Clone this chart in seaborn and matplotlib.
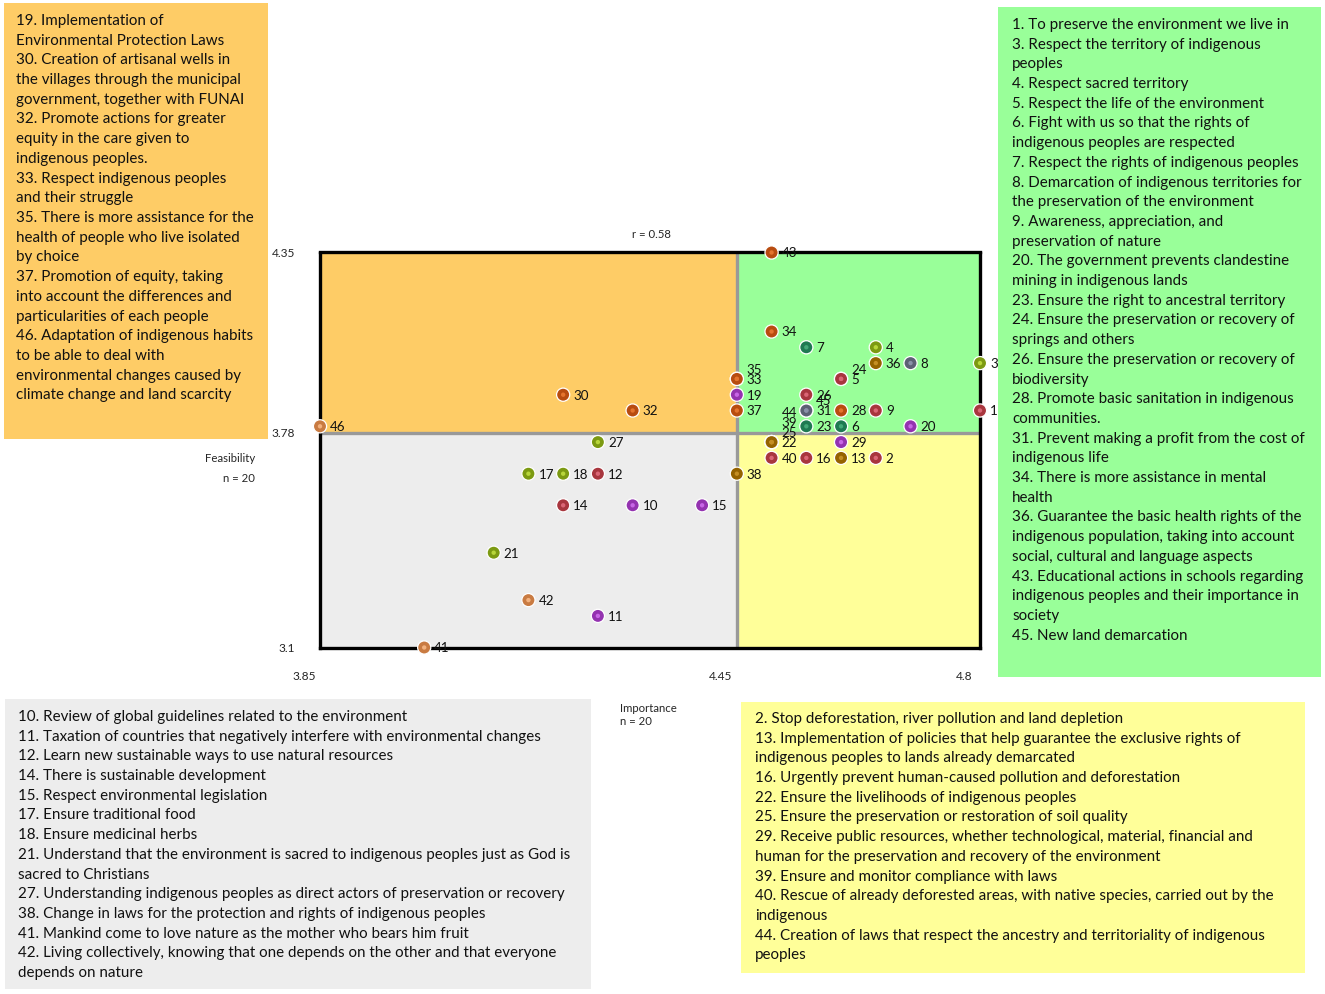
import numpy as np
import pandas as pd
import matplotlib
matplotlib.use("Agg")
import matplotlib.pyplot as plt
from matplotlib.patches import Rectangle
import seaborn as sns

sns.set_style("white")
plt.rcParams['font.family'] = ['Lato', 'DejaVu Sans']

# statement number, importance (x), feasibility (y), cluster
ids = list(range(1, 47))
importance = [4.80, 4.65, 4.80, 4.65, 4.60, 4.60, 4.55, 4.70, 4.65, 4.30,
              4.25, 4.25, 4.60, 4.20, 4.40, 4.55, 4.15, 4.20, 4.45, 4.70,
              4.10, 4.50, 4.55, 4.60, 4.50, 4.55, 4.25, 4.60, 4.60, 4.20,
              4.55, 4.30, 4.45, 4.50, 4.45, 4.65, 4.45, 4.45, 4.50, 4.50,
              4.00, 4.15, 4.50, 4.50, 4.55, 3.85]
feasibility = [3.85, 3.70, 4.00, 4.05, 3.95, 3.80, 4.05, 4.00, 3.85, 3.55,
               3.20, 3.65, 3.70, 3.55, 3.55, 3.70, 3.65, 3.65, 3.90, 3.80,
               3.40, 3.75, 3.80, 3.95, 3.75, 3.90, 3.75, 3.85, 3.75, 3.90,
               3.85, 3.85, 3.95, 4.10, 3.95, 4.00, 3.85, 3.65, 3.75, 3.70,
               3.10, 3.25, 4.35, 3.75, 3.85, 3.80]
cluster = ['red', 'red', 'olive', 'olive', 'red', 'teal', 'teal', 'slate', 'red', 'purple',
           'purple', 'red', 'gold', 'red', 'purple', 'red', 'olive', 'olive', 'purple', 'purple',
           'olive', 'gold', 'teal', 'red', 'gold', 'red', 'olive', 'orange', 'purple', 'orange',
           'slate', 'orange', 'orange', 'orange', 'orange', 'gold', 'orange', 'gold', 'gold', 'red',
           'tan', 'tan', 'orange', 'gold', 'slate', 'tan']

x_min, x_mid, x_max = 3.85, 4.45, 4.80
y_min, y_mid, y_max = 3.10, 3.78, 4.35
x_tick_labels = ['3.85', '4.45', '4.8']
y_tick_labels = ['3.1', '3.78', '4.35']

outer_pal = {'red': '#A8363E', 'olive': '#7C9A12', 'teal': '#1E7A52', 'slate': '#5C6074',
             'purple': '#9433B0', 'gold': '#956300', 'orange': '#B84C10', 'tan': '#C97B42'}
inner_pal = {'red': '#DA6675', 'olive': '#B8D63A', 'teal': '#44A878', 'slate': '#8A90A8',
             'purple': '#C866E6', 'gold': '#C48E24', 'orange': '#E4742E', 'tan': '#F3B27E'}

c_orange, c_green, c_grey, c_yellow = '#FECC66', '#99FF99', '#EDEDED', '#FFFF99'

orange_lines = [
    "19. Implementation of",
    "Environmental Protection Laws",
    "30. Creation of artisanal wells in",
    "the villages through the municipal",
    "government, together with FUNAI",
    "32. Promote actions for greater",
    "equity in the care given to",
    "indigenous peoples.",
    "33. Respect indigenous peoples",
    "and their struggle",
    "35. There is more assistance for the",
    "health of people who live isolated",
    "by choice",
    "37. Promotion of equity, taking",
    "into account the differences and",
    "particularities of each people",
    "46. Adaptation of indigenous habits",
    "to be able to deal with",
    "environmental changes caused by",
    "climate change and land scarcity",
]
green_lines = [
    "1. To preserve the environment we live in",
    "3. Respect the territory of indigenous",
    "peoples",
    "4. Respect sacred territory",
    "5. Respect the life of the environment",
    "6. Fight with us so that the rights of",
    "indigenous peoples are respected",
    "7. Respect the rights of indigenous peoples",
    "8. Demarcation of indigenous territories for",
    "the preservation of the environment",
    "9. Awareness, appreciation, and",
    "preservation of nature",
    "20. The government prevents clandestine",
    "mining in indigenous lands",
    "23. Ensure the right to ancestral territory",
    "24. Ensure the preservation or recovery of",
    "springs and others",
    "26. Ensure the preservation or recovery of",
    "biodiversity",
    "28. Promote basic sanitation in indigenous",
    "communities.",
    "31. Prevent making a profit from the cost of",
    "indigenous life",
    "34. There is more assistance in mental",
    "health",
    "36. Guarantee the basic health rights of the",
    "indigenous population, taking into account",
    "social, cultural and language aspects",
    "43. Educational actions in schools regarding",
    "indigenous peoples and their importance in",
    "society",
    "45. New land demarcation",
]
grey_lines = [
    "10. Review of global guidelines related to the environment",
    "11. Taxation of countries that negatively interfere with environmental changes",
    "12. Learn new sustainable ways to use natural resources",
    "14. There is sustainable development",
    "15. Respect environmental legislation",
    "17. Ensure traditional food",
    "18. Ensure medicinal herbs",
    "21. Understand that the environment is sacred to indigenous peoples just as God is",
    "sacred to Christians",
    "27. Understanding indigenous peoples as direct actors of preservation or recovery",
    "38. Change in laws for the protection and rights of indigenous peoples",
    "41. Mankind come to love nature as the mother who bears him fruit",
    "42. Living collectively, knowing that one depends on the other and that everyone",
    "depends on nature",
]
yellow_lines = [
    "2. Stop deforestation, river pollution and land depletion",
    "13. Implementation of policies that help guarantee the exclusive rights of",
    "indigenous peoples to lands already demarcated",
    "16. Urgently prevent human-caused pollution and deforestation",
    "22. Ensure the livelihoods of indigenous peoples",
    "25. Ensure the preservation or restoration of soil quality",
    "29. Receive public resources, whether technological, material, financial and",
    "human for the preservation and recovery of the environment",
    "39. Ensure and monitor compliance with laws",
    "40. Rescue of already deforested areas, with native species, carried out by the",
    "indigenous",
    "44. Creation of laws that respect the ancestry and territoriality of indigenous",
    "peoples",
]

df = pd.DataFrame({'id': ids, 'importance': importance,
                   'feasibility': feasibility, 'cluster': cluster})
df['stack'] = df.groupby(['importance', 'feasibility']).cumcount()

W, H = 1325, 995
fig = plt.figure(figsize=(W / 100, H / 100), dpi=100)


def fx(px):
    return px / W


def fy(py):
    return 1 - py / H


def text_box(x0, y0, x1, y1, color, lines, tx, ty, step=19.7, size=10.9):
    fig.patches.append(Rectangle((fx(x0), fy(y1)), fx(x1) - fx(x0), fy(y0) - fy(y1),
                                 transform=fig.transFigure, facecolor=color,
                                 edgecolor='none', zorder=0))
    for i, line in enumerate(lines):
        fig.text(fx(tx), fy(ty + i * step), line, fontsize=size,
                 ha='left', va='center', color='#111111')


text_box(4, 4, 268, 440, c_orange, orange_lines, 16, 21)
text_box(998, 8, 1321, 678, c_green, green_lines, 1012, 25)
text_box(5, 700, 591, 990, c_grey, grey_lines, 18, 717)
text_box(741, 703, 1305, 974, c_yellow, yellow_lines, 755, 719)

ax = fig.add_axes([fx(320), fy(648.5), (980 - 320) / W, (648.5 - 253.5) / H])
ax.set_xlim(x_min, x_max)
ax.set_ylim(y_min, y_max)

ax.add_patch(Rectangle((x_min, y_mid), x_mid - x_min, y_max - y_mid, color=c_orange, zorder=0))
ax.add_patch(Rectangle((x_mid, y_mid), x_max - x_mid, y_max - y_mid, color=c_green, zorder=0))
ax.add_patch(Rectangle((x_min, y_min), x_mid - x_min, y_mid - y_min, color=c_grey, zorder=0))
ax.add_patch(Rectangle((x_mid, y_min), x_max - x_mid, y_mid - y_min, color=c_yellow, zorder=0))
ax.axvline(x_mid, color='#999999', lw=2.4, zorder=1)
ax.axhline(y_mid, color='#999999', lw=2.4, zorder=1)

for sp in ax.spines.values():
    sp.set_color('black')
    sp.set_linewidth(2.4)
    sp.set_zorder(2)
ax.set_xticks([])
ax.set_yticks([])

sns.scatterplot(data=df, x='importance', y='feasibility', hue='cluster', palette=outer_pal,
                s=90, edgecolor='white', linewidth=0.9, legend=False, ax=ax,
                zorder=5, clip_on=False)
sns.scatterplot(data=df, x='importance', y='feasibility', hue='cluster', palette=inner_pal,
                s=10, linewidth=0, legend=False, ax=ax, zorder=6, clip_on=False)
ax.set_xlabel('')
ax.set_ylabel('')

for _, r in df.iterrows():
    ax.annotate(str(r['id']), (r['importance'], r['feasibility']),
                xytext=(10, 10 * r['stack']), textcoords='offset pixels',
                ha='left', va='center', fontsize=9.6, color='#111111',
                zorder=7, annotation_clip=False)

for v, lab in zip([x_min, x_mid, x_max], x_tick_labels):
    ax.annotate(lab, (v, 0), xycoords=('data', 'axes fraction'), xytext=(-16, -28),
                textcoords='offset pixels', ha='center', va='center', fontsize=8.6)
for v, lab in zip([y_min, y_mid, y_max], y_tick_labels):
    ax.annotate(lab, (0, v), xycoords=('axes fraction', 'data'), xytext=(-25, 0),
                textcoords='offset pixels', ha='right', va='center', fontsize=8.6)

fig.text(fx(651), fy(235), 'r = 0.58', ha='center', va='center', fontsize=8.2)
fig.text(fx(255), fy(459), 'Feasibility', ha='right', va='center', fontsize=8.2)
fig.text(fx(255), fy(479), 'n = 20', ha='right', va='center', fontsize=8.2)
fig.text(fx(620), fy(709), 'Importance', ha='left', va='center', fontsize=8.2)
fig.text(fx(620), fy(722), 'n = 20', ha='left', va='center', fontsize=8.2)

fig.savefig('out.png', dpi=100)
